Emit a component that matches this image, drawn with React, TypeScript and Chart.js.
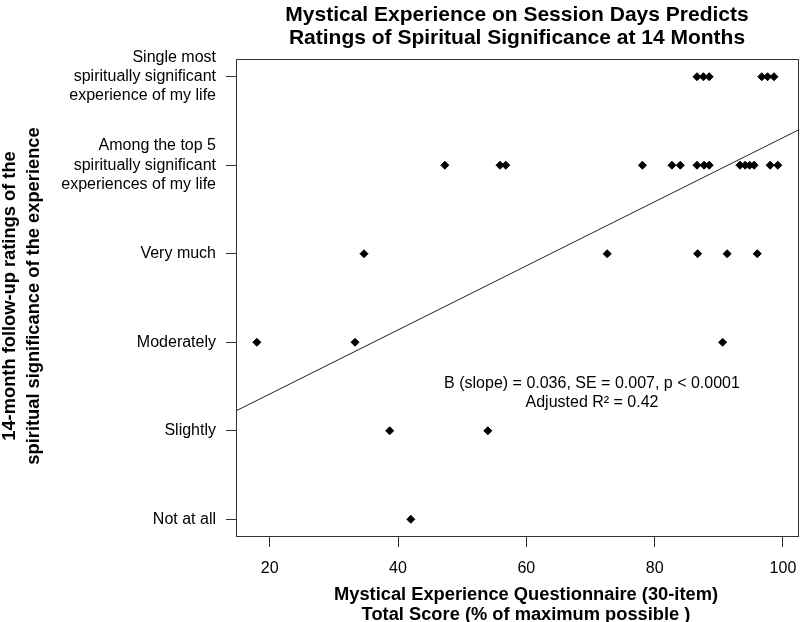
import React, { useEffect, useRef } from 'react';
import { Chart, registerables } from 'chart.js';

Chart.register(...registerables);

const FONT = '"Liberation Sans", Arial, Helvetica, sans-serif';

const chartTitle = [
  'Mystical Experience on Session Days Predicts',
  'Ratings of Spiritual Significance at 14 Months',
];
const xAxisTitle = [
  'Mystical Experience Questionnaire (30-item)',
  'Total Score (% of maximum possible )',
];
const yAxisTitle = [
  '14-month follow-up ratings of the',
  'spiritual significance of the experience',
];
const ratingLabels: string[][] = [
  ['Not at all'],
  ['Slightly'],
  ['Moderately'],
  ['Very much'],
  ['Among the top 5', 'spiritually significant', 'experiences of my life'],
  ['Single most', 'spiritually significant', 'experience of my life'],
];
const xTickValues = [20, 40, 60, 80, 100];
const xAxisMin = 14.75;
const xAxisMax = 102.5;
const yAxisMin = -0.2;
const yAxisMax = 5.2;

// MEQ30 total score (% of max) and 14-month rating (0 = Not at all ... 5 = Single most)
const meqScores = [
  86.6, 87.6, 88.5, 96.7, 97.6, 98.6,
  47.3, 55.9, 56.8, 78.1, 82.7, 84.0, 86.6, 87.7, 88.5, 93.3, 94.1, 94.8, 95.5, 98.0, 99.2,
  34.7, 72.6, 86.7, 91.3, 96.0,
  18.0, 33.3, 90.6,
  38.7, 54.0,
  42.0,
];
const ratings = [
  5, 5, 5, 5, 5, 5,
  4, 4, 4, 4, 4, 4, 4, 4, 4, 4, 4, 4, 4, 4, 4,
  3, 3, 3, 3, 3,
  2, 2, 2,
  1, 1,
  0,
];

const regIntercept = 0.691;
const regSlope = 0.0362;
const statsText = ['B (slope) = 0.036, SE = 0.007, p < 0.0001', 'Adjusted R\u00B2 = 0.42'];

const overlayPlugin = {
  id: 'overlay',
  afterDraw(chart: any) {
    const { ctx, chartArea: a } = chart;
    ctx.save();
    ctx.strokeStyle = '#333';
    ctx.lineWidth = 1;
    ctx.strokeRect(a.left + 0.5, a.top + 0.5, a.right - a.left - 1, a.bottom - a.top - 1);

    ctx.fillStyle = '#000';
    ctx.textAlign = 'center';
    ctx.textBaseline = 'middle';

    ctx.font = `bold 21px ${FONT}`;
    chartTitle.forEach((t, i) => ctx.fillText(t, 517, 15 + i * 23));

    ctx.font = `bold 18.3px ${FONT}`;
    xAxisTitle.forEach((t, i) => ctx.fillText(t, 526, 595 + i * 20));

    ctx.save();
    ctx.translate(0, 296);
    ctx.rotate(-Math.PI / 2);
    yAxisTitle.forEach((t, i) => ctx.fillText(t, 0, 10 + i * 24));
    ctx.restore();

    ctx.font = `16px ${FONT}`;
    statsText.forEach((t, i) => ctx.fillText(t, 592, 384 + i * 19));
    ctx.restore();
  },
};

export default function App() {
  const canvasRef = useRef<HTMLCanvasElement | null>(null);

  useEffect(() => {
    if (!canvasRef.current) return;
    const points = meqScores.map((x, i) => ({ x, y: ratings[i] }));
    const linePts = [xAxisMin, xAxisMax].map((x) => ({ x, y: regIntercept + regSlope * x }));

    const chart = new Chart(canvasRef.current, {
      type: 'scatter',
      data: {
        datasets: [
          {
            data: points,
            pointStyle: 'rectRot',
            pointRadius: 4,
            pointBackgroundColor: '#000',
            pointBorderColor: '#000',
            pointBorderWidth: 1,
            showLine: false,
          },
          {
            data: linePts,
            showLine: true,
            borderColor: '#222',
            borderWidth: 1,
            pointRadius: 0,
            fill: false,
          },
        ],
      },
      options: {
        responsive: false,
        animation: false,
        events: [],
        layout: { autoPadding: false, padding: { top: 59, right: 1, left: 0, bottom: 0 } },
        plugins: {
          legend: { display: false },
          title: { display: false },
          tooltip: { enabled: false },
        },
        scales: {
          x: {
            type: 'linear',
            min: xAxisMin,
            max: xAxisMax,
            afterBuildTicks: (scale: any) => {
              scale.ticks = xTickValues.map((v) => ({ value: v }));
            },
            afterFit: (scale: any) => {
              scale.height = 85;
              scale.paddingLeft = 0;
              scale.paddingRight = 0;
            },
            border: { display: false },
            grid: {
              drawOnChartArea: false,
              drawTicks: true,
              tickLength: 10,
              color: '#333',
            },
            ticks: {
              padding: 0,
              color: '#000',
              maxRotation: 0,
              autoSkip: false,
              font: { family: FONT, size: 16, lineHeight: 2.75 },
              callback: (v: any) => String(v),
            },
          },
          y: {
            type: 'linear',
            min: yAxisMin,
            max: yAxisMax,
            afterBuildTicks: (scale: any) => {
              scale.ticks = ratingLabels.map((_, i) => ({ value: i }));
            },
            afterFit: (scale: any) => {
              scale.width = 236;
              scale.paddingTop = 0;
              scale.paddingBottom = 0;
            },
            border: { display: false },
            grid: {
              drawOnChartArea: false,
              drawTicks: true,
              tickLength: 10,
              color: '#333',
            },
            ticks: {
              padding: 10,
              color: '#000',
              autoSkip: false,
              font: { family: FONT, size: 16, lineHeight: 1.2 },
              callback: (v: any) => ratingLabels[Math.round(Number(v))] ?? '',
            },
          },
        },
      },
      plugins: [overlayPlugin],
    });
    return () => chart.destroy();
  }, []);

  return (
    <div style={{ position: 'fixed', left: 0, top: 0, width: 800, height: 622, background: '#fff' }}>
      <canvas ref={canvasRef} width={800} height={622} style={{ display: 'block', width: 800, height: 622 }} />
    </div>
  );
}
